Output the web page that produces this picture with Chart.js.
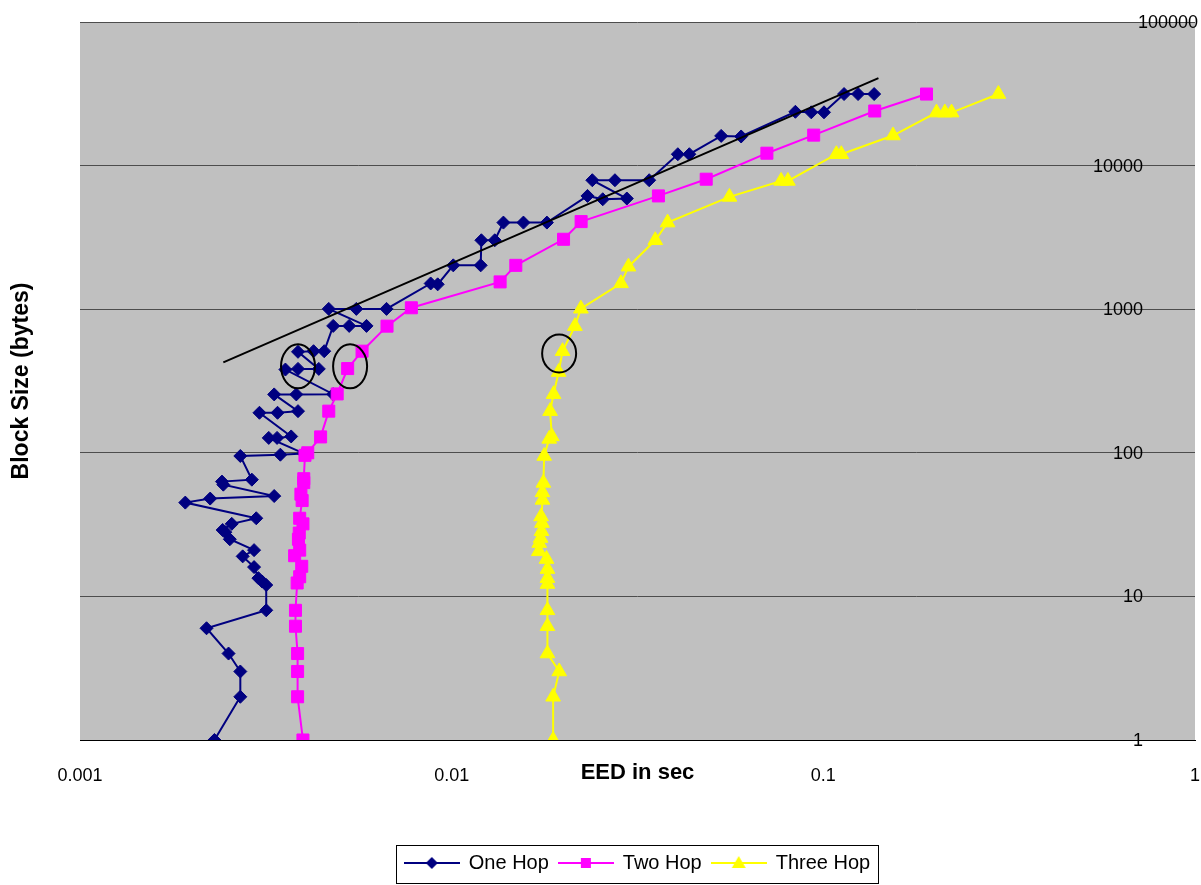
<!DOCTYPE html>
<html>
<head>
<meta charset="utf-8">
<title>EED vs Block Size</title>
<script src="https://cdn.jsdelivr.net/npm/chart.js@4"></script>
<style>
    body { margin: 0; background: #ffffff; }
    #wrap { width: 1201px; height: 885px; position: relative; }
</style>
</head>
<body>
<div id="wrap"><canvas id="eedChart"></canvas></div>
<script>
// ========================================
// EED vs BLOCK SIZE - LOG/LOG SCATTER
// ========================================

// Axis ticks
const xTickValues = [0.001, 0.01, 0.1, 1];
const yTickValues = [1, 10, 100, 1000, 10000, 100000];

// One Hop (EED in sec, block size in bytes) - plotted in measurement order
const oneHopEED = [
    0.00230, 0.00270, 0.00270, 0.00251, 0.00219, 0.00317, 0.00317, 0.00309, 0.00302, 0.00294,
    0.00274, 0.00294, 0.00253, 0.00246, 0.00242, 0.00256, 0.00298, 0.00192, 0.00224, 0.00333,
    0.00243, 0.00241, 0.00290, 0.00270, 0.00346, 0.00400, 0.00322, 0.00339, 0.00370, 0.00304,
    0.00340, 0.00386, 0.00333, 0.00382, 0.00480, 0.00357, 0.00386, 0.00439, 0.00386, 0.00425,
    0.00454, 0.00480, 0.00530, 0.00590, 0.00467, 0.00554, 0.00668, 0.00878, 0.00917, 0.01010,
    0.01197, 0.01202, 0.01306, 0.01378, 0.01560, 0.01804, 0.0232, 0.0255, 0.0296, 0.0239,
    0.0275, 0.0340, 0.0406, 0.0436, 0.0531, 0.0601, 0.0841, 0.0928, 0.1004, 0.1137,
    0.1240, 0.1370
];
const oneHopSize = [
    1, 2, 3, 4, 6, 8, 12, 12.7, 13.4, 16,
    19, 21, 25, 28, 29, 32, 35, 45, 48, 50,
    60, 63, 65, 95, 97, 99, 127, 127, 130, 190,
    190, 195, 255, 255, 256, 380, 384, 384, 505, 510,
    510, 765, 765, 765, 1005, 1005, 1005, 1510, 1490, 2020,
    2020, 3020, 3020, 4010, 4010, 4010, 6150, 5830, 5900, 7910,
    7910, 7910, 12000, 12000, 16100, 15950, 23700, 23500, 23500, 31500,
    31500, 31500
];

// Two Hop
const twoHopEED = [
    0.00398, 0.00385, 0.00385, 0.00385, 0.00380, 0.00380, 0.00384, 0.00390, 0.00395, 0.00378,
    0.00390, 0.00387, 0.00389, 0.00398, 0.00390, 0.00396, 0.00393, 0.00400, 0.00400, 0.00403,
    0.00410, 0.00444, 0.00467, 0.00492, 0.00525, 0.00574, 0.00670, 0.00779, 0.0135, 0.01488,
    0.0200, 0.0223, 0.0360, 0.0484, 0.0705, 0.0942, 0.1375, 0.1895
];
const twoHopSize = [
    1, 2, 3, 4, 6.2, 8, 12.4, 13.7, 16.2, 19.2,
    21, 25, 27.6, 32, 35, 46.5, 51.5, 62, 66, 96,
    100, 129, 195, 257, 386, 510, 762, 1023, 1549, 2020,
    3069, 4075, 6150, 8040, 12200, 16300, 24000, 31500
];

// Three Hop
const threeHopEED = [
    0.01875, 0.01875, 0.01947, 0.01810, 0.01810, 0.01810, 0.01810, 0.01810, 0.01810, 0.01800,
    0.01716, 0.01720, 0.01735, 0.01745, 0.01750, 0.01740, 0.01755, 0.01755, 0.01765, 0.01774,
    0.01830, 0.01860, 0.01840, 0.01880, 0.01940, 0.01988, 0.02146, 0.02227, 0.02855, 0.02990,
    0.03530, 0.03810, 0.05590, 0.07700, 0.08030, 0.10840, 0.11180, 0.15400, 0.20160, 0.21230,
    0.22130, 0.29580
];
const threeHopSize = [
    1, 2, 3, 4, 6.2, 8, 12.2, 13.4, 15.5, 18.2,
    20.6, 23.5, 25.5, 28.4, 32.4, 36, 47, 53, 61.7, 95,
    125, 130, 195, 256, 365, 510, 762, 1007, 1514, 1977,
    3020, 4010, 6053, 7820, 7820, 12000, 12000, 16200, 23400, 23400,
    23400, 31500
];

// Power trend line drawn over the One Hop data (end points)
const trendEED = [0.00243, 0.1407];
const trendSize = [426, 40700];

// Hand-drawn ovals (centres in data units)
const ovalEED = [0.00386, 0.00533, 0.01946];
const ovalSize = [400, 400, 492];

const FONT = '"Liberation Sans", Arial, sans-serif';

/**
 * Zip x/y arrays into point objects
 */
function toPoints(xs, ys) {
    return xs.map((x, i) => ({ x: x, y: ys[i] }));
}

/**
 * Small canvas with line + marker, used as legend symbol
 */
function makeLegendSymbol(color, shape) {
    const c = document.createElement('canvas');
    c.width = 56;
    c.height = 16;
    const g = c.getContext('2d');
    g.strokeStyle = color;
    g.lineWidth = 2;
    g.beginPath();
    g.moveTo(0, 8);
    g.lineTo(56, 8);
    g.stroke();
    g.fillStyle = color;
    g.beginPath();
    if (shape === 'diamond') {
        g.moveTo(28, 2); g.lineTo(34, 8); g.lineTo(28, 14); g.lineTo(22, 8);
    } else if (shape === 'square') {
        g.rect(23, 3, 10, 10);
    } else {
        g.moveTo(28, 1); g.lineTo(35, 13); g.lineTo(21, 13);
    }
    g.closePath();
    g.fill();
    return c;
}

const legendSymbols = [
    makeLegendSymbol('#000080', 'diamond'),
    makeLegendSymbol('#FF00FF', 'square'),
    makeLegendSymbol('#FFFF00', 'triangle')
];

// Grey plot area
const plotBackground = {
    id: 'plotBackground',
    beforeDraw(chart) {
        const { ctx, chartArea: a } = chart;
        ctx.save();
        ctx.fillStyle = '#C0C0C0';
        ctx.fillRect(a.left, a.top, a.right - a.left, a.bottom - a.top);
        ctx.restore();
    }
};

// Ovals, right-hand y labels and legend frame
const overlays = {
    id: 'overlays',
    afterDatasetsDraw(chart) {
        const { ctx } = chart;
        const xs = chart.scales.x;
        const ys = chart.scales.y;
        const radii = [[17, 22], [17, 22], [17, 19]];
        ctx.save();
        ctx.strokeStyle = '#000000';
        ctx.lineWidth = 2;
        ovalEED.forEach((v, i) => {
            ctx.beginPath();
            ctx.ellipse(xs.getPixelForValue(v), ys.getPixelForValue(ovalSize[i]),
                radii[i][0], radii[i][1], 0, 0, Math.PI * 2);
            ctx.stroke();
        });
        ctx.restore();
    },
    afterDraw(chart) {
        const { ctx, chartArea: a } = chart;
        const ys = chart.scales.y;
        ctx.save();
        ctx.fillStyle = '#000000';
        ctx.font = '18px ' + FONT;
        ctx.textAlign = 'right';
        ctx.textBaseline = 'middle';
        yTickValues.forEach((v, i) => {
            const last = i === yTickValues.length - 1;
            const x = last ? chart.width - 3 : a.right - 52;
            ctx.fillText(String(v), x, ys.getPixelForValue(v) + 1);
        });

        // frame round the legend items
        const lg = chart.legend;
        if (lg && lg.legendHitBoxes && lg.legendHitBoxes.length) {
            const boxes = lg.legendHitBoxes;
            const left = Math.min(...boxes.map(b => b.left)) - 9;
            const right = Math.max(...boxes.map(b => b.left + b.width)) + 8;
            ctx.strokeStyle = '#000000';
            ctx.lineWidth = 1;
            ctx.strokeRect(Math.round(left) + 0.5, lg.top + 2.5, Math.round(right - left), lg.height - 2);
        }
        ctx.restore();
    }
};

const ctx = document.getElementById('eedChart');

new Chart(ctx, {
    type: 'scatter',
    data: {
        datasets: [
            {
                label: 'One Hop',
                data: toPoints(oneHopEED, oneHopSize),
                showLine: true,
                borderColor: '#000080',
                backgroundColor: '#000080',
                borderWidth: 2,
                pointStyle: 'rectRot',
                pointRadius: 6.5,
                pointBorderWidth: 1,
                order: 4
            },
            {
                label: 'Two Hop',
                data: toPoints(twoHopEED, twoHopSize),
                showLine: true,
                borderColor: '#FF00FF',
                backgroundColor: '#FF00FF',
                borderWidth: 2,
                pointStyle: 'rect',
                pointRadius: 8.5,
                pointBorderWidth: 1,
                order: 2
            },
            {
                label: 'Three Hop',
                data: toPoints(threeHopEED, threeHopSize),
                showLine: true,
                borderColor: '#FFFF00',
                backgroundColor: '#FFFF00',
                borderWidth: 2,
                pointStyle: 'triangle',
                pointRadius: 8.5,
                pointBorderWidth: 1,
                order: 1
            },
            {
                label: 'trend',
                data: toPoints(trendEED, trendSize),
                showLine: true,
                borderColor: '#000000',
                borderWidth: 2,
                pointRadius: 0,
                order: 3
            }
        ]
    },
    options: {
        responsive: true,
        maintainAspectRatio: false,
        animation: false,
        events: [],
        layout: {
            autoPadding: false,
            padding: { left: 0, right: 6, top: 22, bottom: 2 }
        },
        scales: {
            x: {
                type: 'logarithmic',
                position: 'bottom',
                min: 0.001,
                max: 1,
                afterBuildTicks: (s) => { s.ticks = xTickValues.map(v => ({ value: v })); },
                afterFit: (s) => {
                    s.height = 103;
                    s.paddingLeft = 0;
                    s.paddingRight = 0;
                },
                ticks: {
                    autoSkip: false,
                    maxRotation: 0,
                    padding: 25,
                    color: '#000000',
                    font: { family: FONT, size: 18 },
                    callback: (v) => String(v)
                },
                grid: { display: false, drawTicks: false },
                border: { display: true, color: '#000000', width: 1 },
                title: {
                    display: true,
                    text: 'EED in sec',
                    color: '#000000',
                    font: { family: FONT, size: 22, weight: 'bold' },
                    padding: { top: 0, bottom: 57 }
                }
            },
            y: {
                type: 'logarithmic',
                position: 'left',
                min: 1,
                max: 100000,
                afterBuildTicks: (s) => { s.ticks = yTickValues.map(v => ({ value: v })); },
                afterFit: (s) => { s.width = 80; },
                ticks: { display: false },
                grid: { color: '#4d4d4d', lineWidth: 1, drawTicks: false },
                border: { display: false },
                title: {
                    display: true,
                    text: 'Block Size (bytes)',
                    color: '#000000',
                    font: { family: FONT, size: 23, weight: 'bold' },
                    padding: { top: 8, bottom: 0 }
                }
            }
        },
        plugins: {
            tooltip: { enabled: false },
            legend: {
                position: 'bottom',
                fullSize: false,
                labels: {
                    usePointStyle: true,
                    pointStyleWidth: 54,
                    padding: 10,
                    color: '#000000',
                    font: { family: FONT, size: 20 },
                    generateLabels: (chart) => {
                        const items = Chart.defaults.plugins.legend.labels.generateLabels(chart);
                        return items
                            .filter(it => it.datasetIndex < 3)
                            .map(it => Object.assign(it, { pointStyle: legendSymbols[it.datasetIndex] }));
                    },
                    sort: (a, b) => a.datasetIndex - b.datasetIndex
                }
            }
        }
    },
    plugins: [plotBackground, overlays]
});
</script>
</body>
</html>
